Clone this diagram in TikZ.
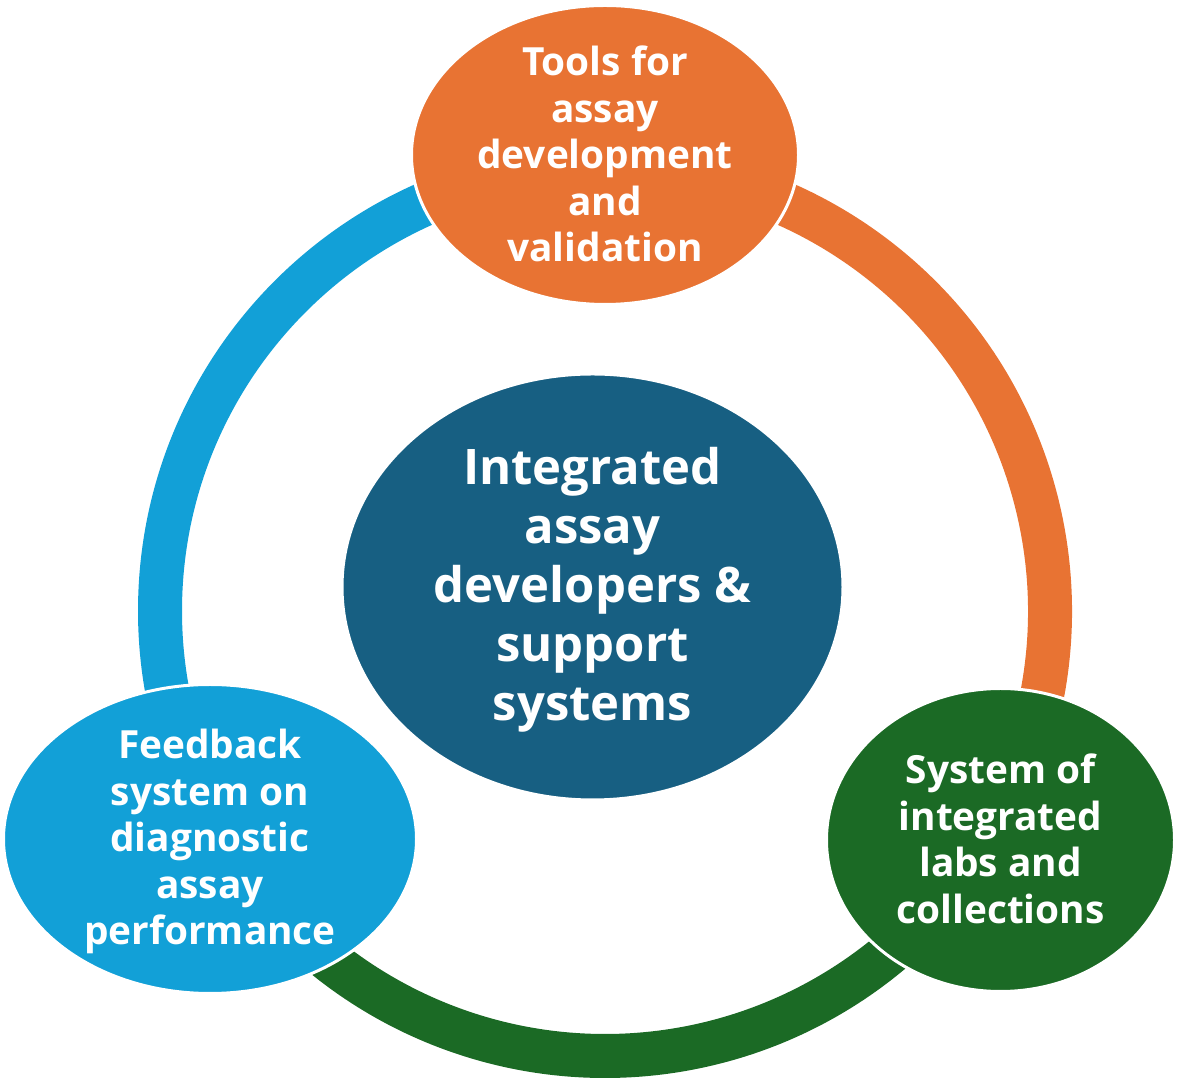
\documentclass[tikz,border=0pt]{standalone}
\usepackage{fontspec}
\setmainfont{Open Sans}[BoldFont={* Bold}]
\usetikzlibrary{shapes.geometric}
\definecolor{orangeC}{HTML}{E87333}
\definecolor{blueC}{HTML}{12A0D7}
\definecolor{navyC}{HTML}{175F82}
\definecolor{greenC}{HTML}{1B6A25}
\tikzset{
  ring/.style={line width=44pt},
  blob/.style={ellipse, draw=white, line width=3pt, inner sep=0pt},
  smalltxt/.style={text=white, align=center, font=\bfseries\fontsize{38.8}{46.5}\selectfont},
  bigtxt/.style={text=white, align=center, font=\bfseries\fontsize{49}{59}\selectfont},
}
\begin{document}
\begin{tikzpicture}[x=1pt,y=1pt]
\useasboundingbox (0,0) rectangle (1178,1081);
\coordinate (rc) at (605,470);
% ring segments
\draw[ring, blueC] (rc) ++(90:445) arc[start angle=90, end angle=215, radius=445];
\draw[ring, orangeC] (rc) ++(-35:445) arc[start angle=-35, end angle=90, radius=445];
\draw[ring, greenC] (rc) ++(215:445) arc[start angle=215, end angle=325, radius=445];
% ellipses
\node[blob, fill=navyC, minimum width=501pt, minimum height=426pt] (mid) at (592.5,494) {};
\node[blob, fill=orangeC, minimum width=387pt, minimum height=299pt] (top) at (605,926) {};
\node[blob, fill=blueC, minimum width=413pt, minimum height=309pt] (left) at (210,242) {};
\node[blob, fill=greenC, minimum width=348pt, minimum height=303pt] (right) at (1000.5,241) {};
% texts
\node[bigtxt] (midt) at ([yshift=-3pt]mid.center) {Integrated\\assay\\developers \&\\support\\systems};
\node[smalltxt] (topt) at ([yshift=1pt]top.center) {Tools for\\assay\\development\\and\\validation};
\node[smalltxt] (leftt) at ([yshift=-2.5pt]left.center) {Feedback\\system on\\diagnostic\\assay\\performance};
\node[smalltxt] (rightt) at ([yshift=1pt]right.center) {System of\\integrated\\labs and\\collections};
\end{tikzpicture}
\end{document}
